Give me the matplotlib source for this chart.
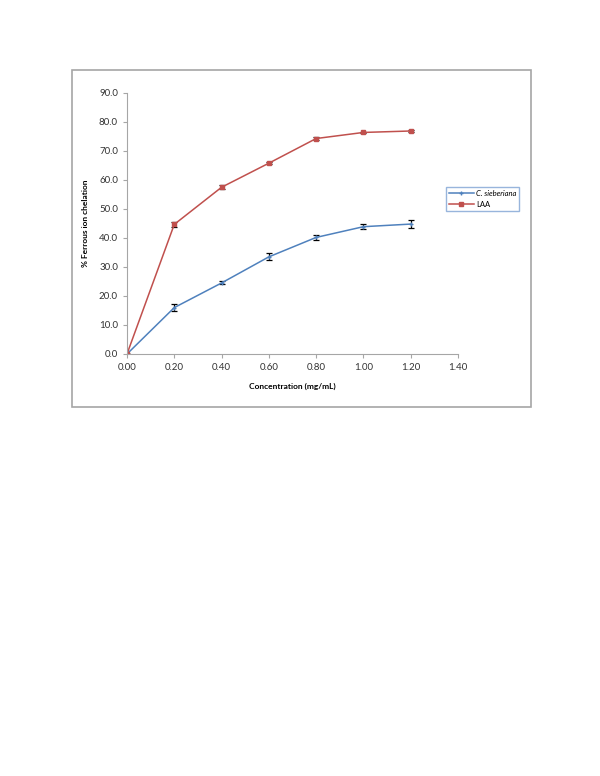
import matplotlib.pyplot as plt
from matplotlib.patches import Rectangle
from matplotlib.lines import Line2D

plt.rcParams['font.family'] = ['Lato', 'DejaVu Sans']

conc = [0.0, 0.2, 0.4, 0.6, 0.8, 1.0, 1.2]
cs_vals = [0.0, 16.0, 24.5, 33.5, 40.2, 43.9, 44.8]
cs_err = [0.0, 1.3, 0.5, 1.2, 0.9, 0.8, 1.3]
laa_vals = [0.0, 44.7, 57.5, 65.8, 74.3, 76.4, 76.9]
laa_err = [0.0, 0.8, 0.7, 0.3, 0.4, 0.3, 0.3]

xticks = [0.0, 0.2, 0.4, 0.6, 0.8, 1.0, 1.2, 1.4]
yticks = [0, 10, 20, 30, 40, 50, 60, 70, 80, 90]

blue = '#4F81BD'
red = '#C0504D'

fig = plt.figure(figsize=(6, 7.76), dpi=100)

# outer chart frame
fig.patches.append(Rectangle((72 / 600, 1 - 407 / 776), (531 - 72) / 600, (407 - 70) / 776,
                             transform=fig.transFigure, fill=False,
                             edgecolor='#a6a6a6', linewidth=1.2))

ax = fig.add_axes([127 / 600, 1 - 354 / 776, (458 - 127) / 600, (354 - 93) / 776])

ax.errorbar(conc, cs_vals, yerr=cs_err, color=blue, ecolor='black',
            elinewidth=0.9, capsize=2.5, capthick=0.9, marker='+', markersize=3,
            linewidth=1.1)
ax.errorbar(conc, laa_vals, yerr=laa_err, color=red, ecolor='black',
            elinewidth=0.9, capsize=2.5, capthick=0.9, marker='s', markersize=2.5,
            linewidth=1.1)

ax.set_xlim(0, 1.4)
ax.set_ylim(0, 90)
ax.set_xticks(xticks)
ax.set_xticklabels(['%.2f' % v for v in xticks])
ax.set_yticks(yticks)
ax.set_yticklabels(['%.1f' % v for v in yticks])
ax.tick_params(labelsize=7, colors='#333333', length=3, width=0.8,
               color='#a6a6a6', direction='out')
for s in ['top', 'right']:
    ax.spines[s].set_visible(False)
for s in ['left', 'bottom']:
    ax.spines[s].set_color('#a6a6a6')
    ax.spines[s].set_linewidth(0.8)

ax.set_xlabel('Concentration (mg/mL)', fontsize=6, fontweight='bold', labelpad=8)
ax.set_ylabel('% Ferrous ion chelation', fontsize=6, fontweight='bold', labelpad=7)

handles = [Line2D([], [], color=blue, marker='+', markersize=3, linewidth=1.1),
           Line2D([], [], color=red, marker='s', markersize=2.5, linewidth=1.1)]
leg = fig.legend(handles, ['C. sieberiana', 'LAA'], loc='upper left',
                 bbox_to_anchor=(446 / 600, 1 - 187 / 776), borderaxespad=0,
                 fontsize=5.5, frameon=True, fancybox=False, handlelength=3.2,
                 handletextpad=0.3, borderpad=0.4, labelspacing=0.5)
leg.get_frame().set_edgecolor('#7fa3d4')
leg.get_frame().set_linewidth(1.0)
leg.texts[0].set_fontstyle('italic')

fig.savefig('out.png', dpi=100)
